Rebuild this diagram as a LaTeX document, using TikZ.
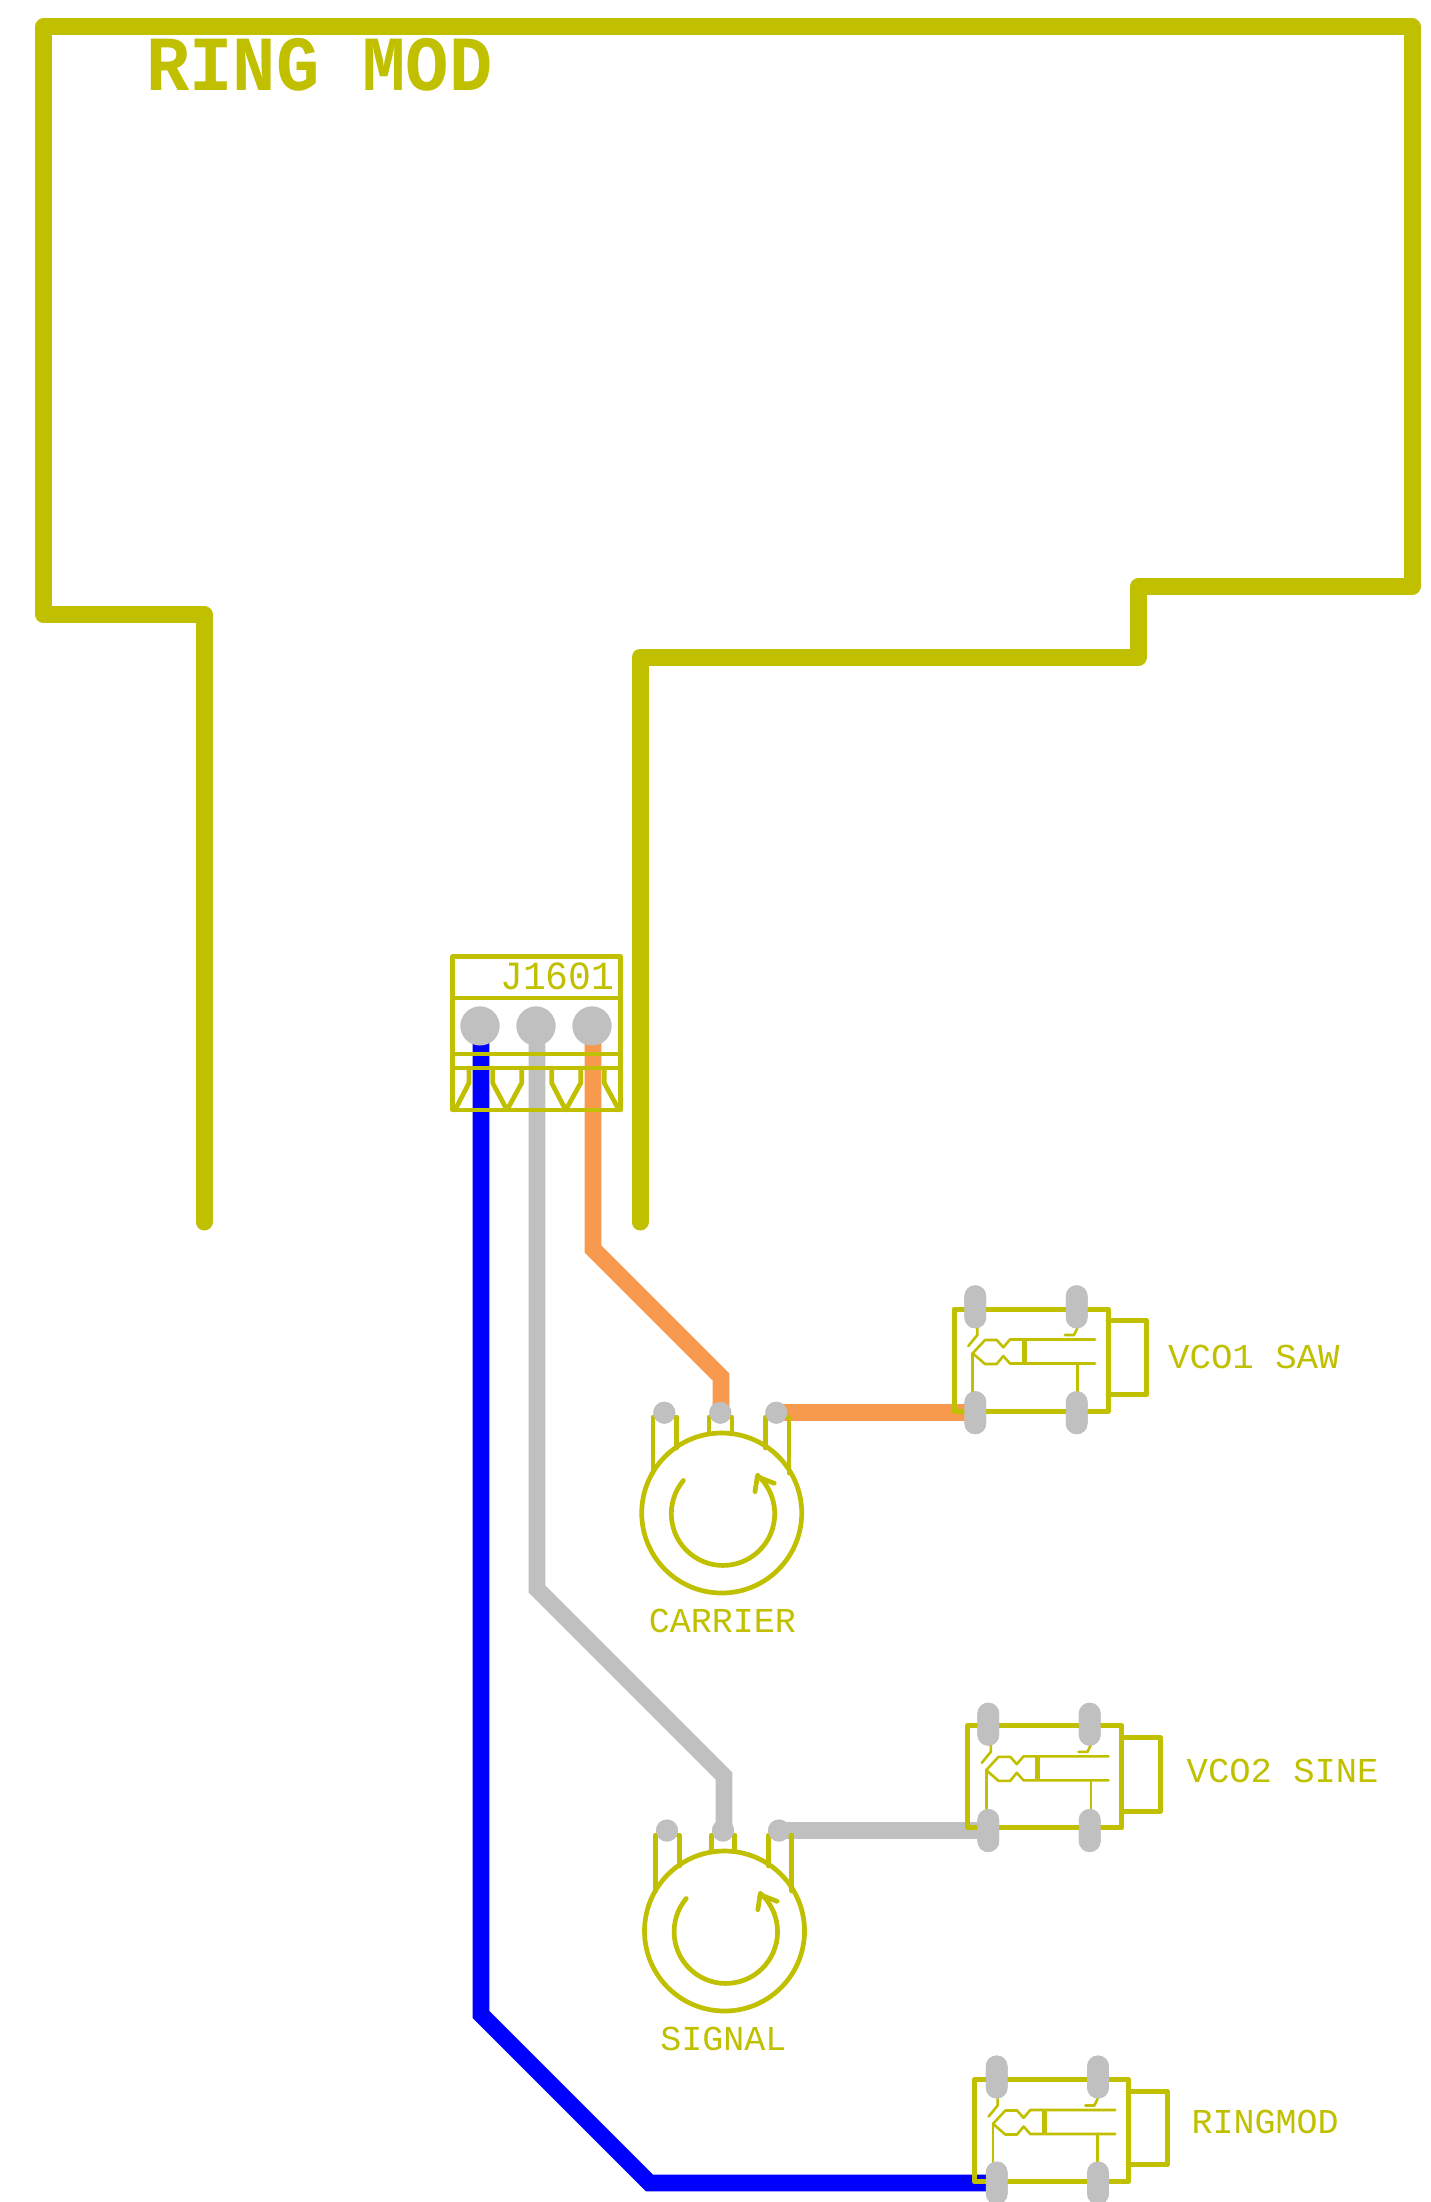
\documentclass[tikz,border=0pt]{standalone}
\usepackage{fontspec}
\setmainfont{Liberation Mono}
\definecolor{silk}{HTML}{C0C000}
\definecolor{padgray}{HTML}{C0C0C0}
\definecolor{orangetrace}{HTML}{F79A4E}
\definecolor{bluetrace}{HTML}{0000FF}
\tikzset{
  outline/.style={draw=silk,line width=17pt,line cap=round,line join=round},
  silkline/.style={draw=silk,line width=4.7pt,line cap=round,line join=round},
  thinline/.style={draw=silk,line width=2.6pt,line cap=round,line join=round},
  trace/.style={line width=16.7pt,line join=miter},
  padround/.style={circle,fill=padgray,inner sep=0pt,minimum size=39pt},
  padsmall/.style={circle,fill=padgray,inner sep=0pt,minimum size=22pt},
  padlong/.style={rounded corners=10.8pt,fill=padgray,inner sep=0pt,minimum width=21.7pt,minimum height=43pt},
  label/.style={text=silk,inner sep=0pt,anchor=base west,font=\fontsize{35}{35}\selectfont},
  pics/jackpart/.style={code={
    \draw[silkline,line width=5pt] (0,0) rectangle (154,102);
    \draw[silkline,line width=5pt] (154,11.7) -- (192.7,11.7) -- (192.7,85.3) -- (154,85.3);
    \draw[thinline] (23.3,19.3) -- (23.3,26) -- (14.3,37);
    \draw[thinline] (141,30.5) -- (56,30.5) -- (49.3,38.3) -- (42.7,31) -- (31,31) -- (18.7,44.3) -- (31,55) -- (42.7,55) -- (49.3,47) -- (56,54.5) -- (141,54.5);
    \draw[thinline] (18.7,44.3) -- (18.7,82.7);
    \draw[silk,line width=5pt] (70.3,30.5) -- (70.3,54.5);
    \draw[thinline] (123.3,19.3) -- (120,26) -- (111,26);
    \draw[thinline] (123.3,54.5) -- (123.3,82.7);
  }},
  pics/potpart/.style={code={
    \draw[silkline] (0,0) circle (80);
    \draw[silkline] (-68.7,-40) -- (-68.7,-96) -- (-45,-96) -- (-45,-65);
    \draw[silkline] (-12.7,-80) -- (-12.7,-96) -- (10.3,-96) -- (10.3,-80);
    \draw[silkline] (44,-65) -- (44,-96) -- (67.3,-96) -- (67.3,-40);
    \draw[silkline] (-38.3,-32.5) arc[start angle=220,end angle=-48,radius=51.7];
    \draw[silkline] (52.6,-29.7) -- (35.6,-36.3) -- (33.3,-21.3);
  }}
}
\begin{document}
\begin{tikzpicture}[x=1pt,y=-1pt]
\useasboundingbox (0,0) rectangle (1430,2202);
\clip (0,0) rectangle (1430,2202);
\fill[white] (0,0) rectangle (1430,2202);

% named places
\node[padround] (p1) at (480,1026) {};
\node[padround] (p2) at (536,1026) {};
\node[padround] (p3) at (592,1026) {};
\node[padsmall] (c1) at (664.3,1412.7) {};
\node[padsmall] (c2) at (720.3,1412.7) {};
\node[padsmall] (c3) at (776.3,1412.7) {};
\node[padsmall] (s1) at (667,1830.5) {};
\node[padsmall] (s2) at (723,1830.5) {};
\node[padsmall] (s3) at (779,1830.5) {};
\node[padlong] (j1a) at (975.3,1306.8) {};
\node[padlong] (j1b) at (1076.7,1306.8) {};
\node[padlong] (j1c) at (975.3,1412.7) {};
\node[padlong] (j1d) at (1076.7,1412.7) {};
\node[padlong] (j2a) at (988.3,1724.2) {};
\node[padlong] (j2b) at (1089.7,1724.2) {};
\node[padlong] (j2c) at (988.3,1830.5) {};
\node[padlong] (j2d) at (1089.7,1830.5) {};
\node[padlong] (j3a) at (996.7,2077) {};
\node[padlong] (j3b) at (1098,2077) {};
\node[padlong] (j3c) at (996.7,2183) {};
\node[padlong] (j3d) at (1098,2183) {};

% traces
\draw[trace,bluetrace] ([xshift=1pt]p1.center) -- (481,2014.5) -- (649.5,2183) -- (j3c.center);
\draw[trace,padgray] ([xshift=1pt]p2.center) -- (537,1589) -- (724,1776) -- (724,1830.5);
\draw[trace,padgray] (s3.center) -- (j2c.center);
\draw[trace,orangetrace] ([xshift=1pt]p3.center) -- (593,1249) -- (721,1377) -- (721,1412.7);
\draw[trace,orangetrace] (c3.center) -- (j1c.center);

% board outline
\draw[outline] (204,1222) -- (204,614.5) -- (43.5,614.5) -- (43.5,27) -- (1412,27) -- (1412,586.3) -- (1138.6,586.3) -- (1138.6,657) -- (640,657) -- (640,1222);
\node[text=silk,inner sep=0pt,anchor=base west,font=\bfseries\fontsize{78}{78}\selectfont] (title) at (146,90.5) {\scalebox{0.925}[1]{RING MOD}};

% connector J1601
\draw[silkline] (452.7,956.7) rectangle (620.7,1110);
\draw[silkline] (452.7,998) -- (620.7,998);
\draw[silkline] (452.7,1054) -- (620.7,1054);
\draw[silkline] (452.7,1068) -- (620.7,1068);
\draw[silkline] (469,1068) -- (469,1083) -- (455,1110);
\draw[silkline] (492.7,1068) -- (492.7,1083) -- (507,1110) -- (521.7,1083) -- (521.7,1068);
\draw[silkline] (551.7,1068) -- (551.7,1083) -- (565.7,1110) -- (580.7,1083) -- (580.7,1068);
\draw[silkline] (604.3,1068) -- (604.3,1083) -- (619,1110);
\node[label,font=\fontsize{40}{40}\selectfont] (jname) at (500,989) {\scalebox{0.95}[1]{J1601}};

% pots
\pic at (721.7,1513) {potpart};
\pic at (724.5,1931) {potpart};
\node[label,anchor=base] (carrier) at (722.5,1632) {CARRIER};
\node[label,anchor=base] (signal) at (723.5,2050) {SIGNAL};

% jacks
\pic at (954,1309) {jackpart};
\pic at (967.5,1725.8) {jackpart};
\pic at (974.3,2079.5) {jackpart};
\node[label] (vco1) at (1168,1368) {\scalebox{1.02}[1]{VCO1 SAW}};
\node[label] (vco2) at (1186.5,1782) {\scalebox{1.015}[1]{VCO2 SINE}};
\node[label] (ringmod) at (1191.5,2133) {RINGMOD};

% pads on top
\foreach \n in {p1,p2,p3}{\fill[padgray] (\n) circle (19.5);}
\foreach \n in {c1,c2,c3,s1,s2,s3}{\fill[padgray] (\n) circle (11);}
\foreach \n in {j1a,j1b,j1c,j1d,j2a,j2b,j2c,j2d,j3a,j3b,j3c,j3d}{\fill[padgray,rounded corners=10.8pt] ([xshift=-10.85pt,yshift=21.5pt]\n.center) rectangle ([xshift=10.85pt,yshift=-21.5pt]\n.center);}
\end{tikzpicture}
\end{document}
